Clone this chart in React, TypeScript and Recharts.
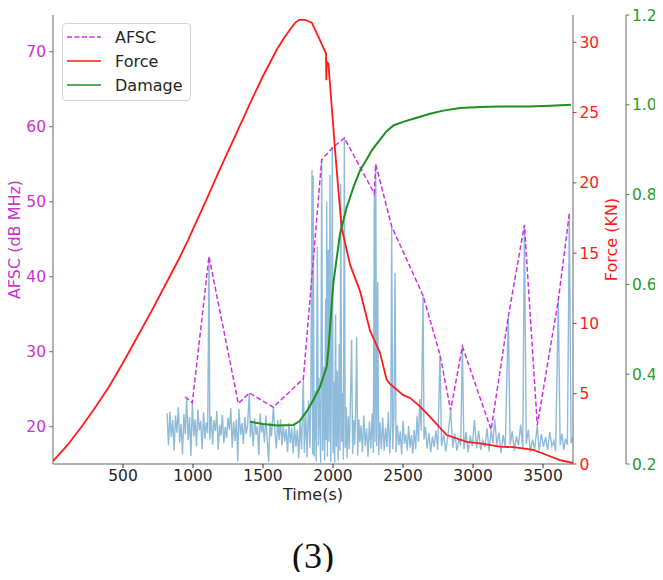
import { ComposedChart, Legend, Line, XAxis, YAxis } from "recharts";

const FONT = "'DejaVu Sans', sans-serif";

const timeTicks = [500, 1000, 1500, 2000, 2500, 3000, 3500];
const afscTicks = [20, 30, 40, 50, 60, 70];
const forceTicks = [0, 5, 10, 15, 20, 25, 30];
const damageTicks = [0.2, 0.4, 0.6, 0.8, 1.0, 1.2];

// dashed AFSC envelope (time, dB MHz)
const afscPoints: [number, number][] = [
  [943, 24.0], [995, 23.2], [1114, 42.7], [1324, 23.1], [1402, 24.5],
  [1574, 22.6], [1788, 26.4], [1919, 55.6], [2002, 57.3], [2081, 58.5],
  [2295, 51.1], [2305, 55.0], [2419, 46.7], [2643, 37.5], [2764, 29.6],
  [2840, 22.2], [2924, 30.7], [3129, 19.6], [3252, 34.7], [3367, 46.9],
  [3459, 20.2], [3609, 36.9], [3688, 48.4],
];

// raw AFSC signal (light blue)
const signalPoints: [number, number][] = [
  [815, 21.8], [825, 17.5], [835, 22.0], [845, 18.6], [855, 20.9], [865, 16.8],
  [875, 21.5], [885, 19.2], [895, 22.6], [905, 17.9], [915, 20.4], [925, 16.3],
  [935, 21.7], [945, 19.0], [955, 23.8], [965, 18.2], [975, 21.3], [985, 16.1],
  [995, 23.2], [1005, 18.7], [1015, 21.0], [1025, 17.4], [1035, 22.3], [1045, 19.5],
  [1055, 20.8], [1065, 17.0], [1075, 21.9], [1085, 18.4], [1095, 20.6], [1105, 19.1],
  [1114, 42.7], [1120, 18.3], [1130, 21.4], [1140, 17.6], [1150, 20.9], [1160, 19.4],
  [1170, 22.1], [1180, 16.9], [1190, 20.3], [1200, 18.8], [1210, 21.6], [1220, 17.8],
  [1230, 20.0], [1240, 18.5], [1250, 21.2], [1260, 19.6], [1270, 22.5], [1280, 17.2],
  [1290, 20.7], [1300, 18.1], [1310, 21.0], [1320, 15.4], [1328, 22.4], [1340, 18.9],
  [1350, 20.5], [1360, 17.7], [1370, 21.3], [1380, 19.0], [1390, 20.2], [1402, 24.5],
  [1410, 18.6], [1420, 20.8], [1430, 17.4], [1440, 21.1], [1450, 18.9], [1460, 20.1],
  [1470, 16.2], [1480, 21.8], [1490, 19.2], [1500, 20.4], [1510, 17.9], [1520, 21.5],
  [1530, 18.3], [1540, 15.3], [1550, 20.6], [1560, 18.7], [1574, 22.6], [1585, 19.4],
  [1595, 17.1], [1605, 20.9], [1615, 18.2], [1625, 21.0], [1635, 17.5], [1645, 20.3],
  [1655, 18.0], [1665, 19.7], [1675, 16.6], [1685, 20.5], [1695, 17.8], [1705, 19.9],
  [1715, 16.4], [1725, 20.2], [1735, 17.3], [1745, 19.6], [1755, 15.8], [1765, 20.8],
  [1775, 17.0], [1788, 26.4], [1795, 16.5], [1805, 21.9], [1815, 15.9], [1825, 23.5],
  [1835, 17.2], [1842, 25.0], [1850, 54.2], [1854, 16.3], [1858, 53.5], [1865, 16.0],
  [1872, 24.8], [1880, 15.4], [1888, 44.0], [1895, 17.5], [1900, 26.5], [1905, 21.3],
  [1912, 15.2], [1919, 55.6], [1926, 16.8], [1933, 28.0], [1940, 15.5], [1947, 37.0],
  [1951, 18.2], [1955, 50.0], [1960, 16.0], [1966, 43.6], [1972, 18.0], [1978, 53.6],
  [1984, 15.3], [1990, 30.5], [1995, 57.3], [2000, 16.5], [2006, 26.0], [2012, 15.2],
  [2018, 35.0], [2024, 17.3], [2030, 27.5], [2037, 15.5], [2044, 31.0], [2050, 16.8],
  [2055, 52.4], [2062, 18.0], [2068, 24.5], [2074, 15.6], [2081, 58.5], [2087, 17.2],
  [2094, 22.6], [2100, 15.8], [2108, 21.4], [2116, 17.0], [2124, 23.0], [2133, 31.6],
  [2140, 16.4], [2148, 20.9], [2155, 17.6], [2162, 22.3], [2169, 32.0], [2176, 16.1],
  [2184, 21.0], [2192, 17.9], [2200, 20.2], [2210, 16.6], [2220, 21.5], [2230, 17.4],
  [2240, 19.8], [2250, 16.0], [2260, 20.7], [2270, 17.1], [2280, 21.8], [2288, 16.5],
  [2295, 51.1], [2300, 18.0], [2305, 55.0], [2312, 17.4], [2319, 39.3], [2326, 16.2],
  [2335, 20.6], [2345, 17.0], [2355, 21.2], [2365, 16.8], [2375, 19.9], [2385, 17.3],
  [2395, 22.0], [2405, 16.4], [2413, 20.5], [2419, 46.7], [2426, 17.0], [2435, 21.3],
  [2443, 40.5], [2450, 16.6], [2460, 20.2], [2470, 17.5], [2480, 19.4], [2490, 16.3],
  [2500, 20.8], [2510, 17.7], [2520, 19.0], [2530, 16.8], [2540, 20.1], [2550, 17.2],
  [2560, 18.9], [2570, 16.4], [2580, 19.6], [2590, 17.0], [2600, 21.4], [2610, 18.0],
  [2620, 23.7], [2630, 19.5], [2643, 37.5], [2650, 18.3], [2660, 20.0], [2672, 17.1],
  [2685, 19.2], [2698, 16.6], [2710, 18.7], [2722, 17.3], [2735, 19.5], [2748, 16.9],
  [2764, 29.6], [2775, 17.4], [2790, 19.0], [2805, 16.7], [2820, 18.6], [2840, 22.2],
  [2855, 17.2], [2870, 19.1], [2885, 16.8], [2900, 18.4], [2912, 17.5], [2924, 30.7],
  [2935, 17.0], [2950, 19.3], [2965, 16.6], [2980, 18.8], [2995, 17.4], [3010, 20.9],
  [3025, 17.1], [3040, 19.5], [3055, 16.9], [3070, 18.2], [3085, 17.3], [3100, 19.8],
  [3115, 16.7], [3129, 19.6], [3142, 17.8], [3155, 21.0], [3170, 17.6], [3185, 19.2],
  [3200, 16.5], [3215, 18.9], [3230, 17.2], [3252, 34.7], [3265, 17.6], [3280, 19.4],
  [3295, 16.8], [3310, 18.7], [3325, 17.5], [3340, 20.3], [3355, 17.1], [3367, 46.9],
  [3380, 17.7], [3395, 19.6], [3410, 16.6], [3425, 18.3], [3440, 17.0], [3459, 20.2],
  [3472, 16.8], [3488, 19.0], [3503, 17.3], [3518, 18.6], [3533, 16.9], [3548, 19.3],
  [3563, 17.4], [3578, 18.1], [3590, 16.7], [3609, 36.9], [3622, 17.5], [3635, 19.1],
  [3648, 16.9], [3660, 18.4], [3674, 17.6], [3688, 48.4], [3700, 17.8], [3712, 18.5],
];

// force in KN
const forcePoints: [number, number][] = [
  [0, 0.2], [100, 1.3], [200, 2.6], [300, 4.0], [400, 5.5], [500, 7.2],
  [600, 9.0], [700, 10.8], [800, 12.7], [900, 14.6], [964, 15.9], [1000, 16.7],
  [1100, 18.9], [1193, 21.0], [1300, 23.3], [1400, 25.5], [1500, 27.6], [1600, 29.5],
  [1650, 30.3], [1700, 31.0], [1730, 31.4], [1759, 31.6], [1800, 31.6], [1848, 31.4],
  [1900, 30.3], [1950, 29.2], [1952, 27.3], [1955, 28.6], [1967, 28.5], [2014, 22.4],
  [2045, 18.7], [2062, 16.8], [2121, 14.2], [2193, 12.3], [2264, 9.5], [2336, 7.9],
  [2383, 6.0], [2407, 5.7], [2502, 4.9], [2550, 4.7], [2621, 4.1], [2693, 3.35],
  [2812, 2.06], [2955, 1.58], [3050, 1.47], [3193, 1.23], [3288, 1.2], [3431, 1.0],
  [3526, 0.64], [3621, 0.28], [3714, 0.07],
];

const damagePoints: [number, number][] = [
  [1407, 0.294], [1500, 0.289], [1600, 0.286], [1717, 0.287], [1760, 0.295],
  [1812, 0.317], [1860, 0.343], [1907, 0.372], [1955, 0.417], [1962, 0.44],
  [1967, 0.454], [2002, 0.602], [2050, 0.713], [2098, 0.772], [2150, 0.82],
  [2193, 0.854], [2240, 0.878], [2276, 0.898], [2312, 0.913], [2380, 0.94],
  [2431, 0.954], [2500, 0.962], [2574, 0.969], [2693, 0.98], [2788, 0.987],
  [2907, 0.993], [3050, 0.995], [3193, 0.996], [3400, 0.996], [3550, 0.998],
  [3700, 1.0],
];

const toRows = (pts: [number, number][]) => pts.map(([t, v]) => ({ t, v }));

const AFSC_LINE = "#cc33dd";
const AFSC_TEXT = "#cc33cc";
const FORCE = "#ff1a1a";
const DAMAGE_LINE = "#1f8f1f";
const DAMAGE_TEXT = "#2a9a2a";
const SIGNAL = "#8fbbdb";
const FRAME = "#666";

const legendItems = [
  { name: "AFSC", color: AFSC_LINE, dash: "5 2.5" },
  { name: "Force", color: FORCE, dash: undefined },
  { name: "Damage", color: DAMAGE_LINE, dash: undefined },
];

const renderLegend = () => (
  <div
    style={{
      border: "1px solid #d4d4d4",
      borderRadius: 4,
      background: "rgba(255,255,255,0.85)",
      padding: "1px 5px 3px 4px",
      fontFamily: FONT,
      fontSize: 16,
      color: "#262626",
    }}
  >
    {legendItems.map((item) => (
      <div key={item.name} style={{ display: "flex", alignItems: "center", height: 24 }}>
        <svg width={34} height={10}>
          <line x1={0} y1={5} x2={34} y2={5} stroke={item.color} strokeWidth={1.6} strokeDasharray={item.dash} />
        </svg>
        <span style={{ marginLeft: 14 }}>{item.name}</span>
      </div>
    ))}
  </div>
);

export default function App() {
  return (
    <div style={{ position: "relative", width: 663, height: 580, margin: -8, background: "#fff" }}>
      <ComposedChart width={663} height={580} margin={{ top: 15, right: 0, bottom: 71, left: 0 }}>
        <XAxis
          xAxisId="top"
          orientation="top"
          type="number"
          domain={[0, 3714]}
          height={0}
          tick={false}
          tickLine={false}
          axisLine={{ stroke: FRAME }}
        />
        <XAxis
          dataKey="t"
          type="number"
          domain={[0, 3714]}
          allowDataOverflow
          ticks={timeTicks}
          height={45}
          tickSize={4}
          tickMargin={2}
          axisLine={{ stroke: FRAME }}
          tickLine={{ stroke: "#333" }}
          tick={{ fill: "#262626", fontSize: 15.5, fontFamily: FONT }}
          label={{ value: "Time(s)", position: "insideTop", offset: 25, fill: "#262626", fontSize: 16, fontFamily: FONT }}
        />
        <YAxis
          yAxisId="afsc"
          orientation="left"
          width={53}
          domain={[15.03, 74.9]}
          allowDataOverflow
          ticks={afscTicks}
          tickSize={4}
          tickMargin={3}
          axisLine={{ stroke: FRAME }}
          tickLine={{ stroke: AFSC_TEXT }}
          tick={{ fill: AFSC_TEXT, fontSize: 15.5, fontFamily: FONT }}
          label={{ value: "AFSC (dB MHz)", angle: -90, position: "center", dx: -12.5, fill: AFSC_TEXT, fontSize: 16, fontFamily: FONT }}
        />
        <YAxis
          yAxisId="r1"
          orientation="right"
          width={53}
          domain={[0, 31.94]}
          allowDataOverflow
          ticks={forceTicks}
          tickSize={3.5}
          tickMargin={3}
          axisLine={{ stroke: FRAME }}
          tickLine={{ stroke: FORCE }}
          tick={{ fill: FORCE, fontSize: 15.5, fontFamily: FONT }}
          label={{ value: "Force (KN)", angle: -90, position: "center", dx: 11.5, fill: FORCE, fontSize: 16, fontFamily: FONT }}
        />
        <YAxis
          yAxisId="r2"
          orientation="right"
          width={37}
          domain={[0.2, 1.2]}
          allowDataOverflow
          ticks={damageTicks}
          tickFormatter={(v: number) => v.toFixed(1)}
          tickSize={3.5}
          tickMargin={2.5}
          axisLine={{ stroke: FRAME }}
          tickLine={{ stroke: DAMAGE_TEXT }}
          tick={{ fill: DAMAGE_TEXT, fontSize: 15.5, fontFamily: FONT }}
          label={{ value: "Damage", angle: -90, position: "center", dx: 23.5, fill: DAMAGE_TEXT, fontSize: 16, fontFamily: FONT }}
        />
        <Line
          yAxisId="afsc"
          data={toRows(signalPoints)}
          dataKey="v"
          type="linear"
          stroke={SIGNAL}
          strokeWidth={1.4}
          dot={false}
          isAnimationActive={false}
          legendType="none"
        />
        <Line
          yAxisId="afsc"
          data={toRows(afscPoints)}
          dataKey="v"
          name="AFSC"
          type="linear"
          stroke={AFSC_LINE}
          strokeWidth={1.5}
          strokeDasharray="5 2.5"
          dot={false}
          isAnimationActive={false}
        />
        <Line
          yAxisId="r1"
          data={toRows(forcePoints)}
          dataKey="v"
          name="Force"
          type="linear"
          stroke={FORCE}
          strokeWidth={1.8}
          dot={false}
          isAnimationActive={false}
        />
        <Line
          yAxisId="r2"
          data={toRows(damagePoints)}
          dataKey="v"
          name="Damage"
          type="linear"
          stroke={DAMAGE_LINE}
          strokeWidth={2}
          dot={false}
          isAnimationActive={false}
        />
        <Legend
          layout="vertical"
          align="center"
          verticalAlign="middle"
          content={renderLegend}
          wrapperStyle={{ left: 62, top: 23, width: 129 }}
        />
      </ComposedChart>
      <div
        style={{
          position: "absolute",
          top: 538,
          left: 0,
          width: 626,
          textAlign: "center",
          fontFamily: "'Liberation Serif', serif",
          fontSize: 36,
          lineHeight: "36px",
          color: "#111",
        }}
      >
        (3)
      </div>
    </div>
  );
}
